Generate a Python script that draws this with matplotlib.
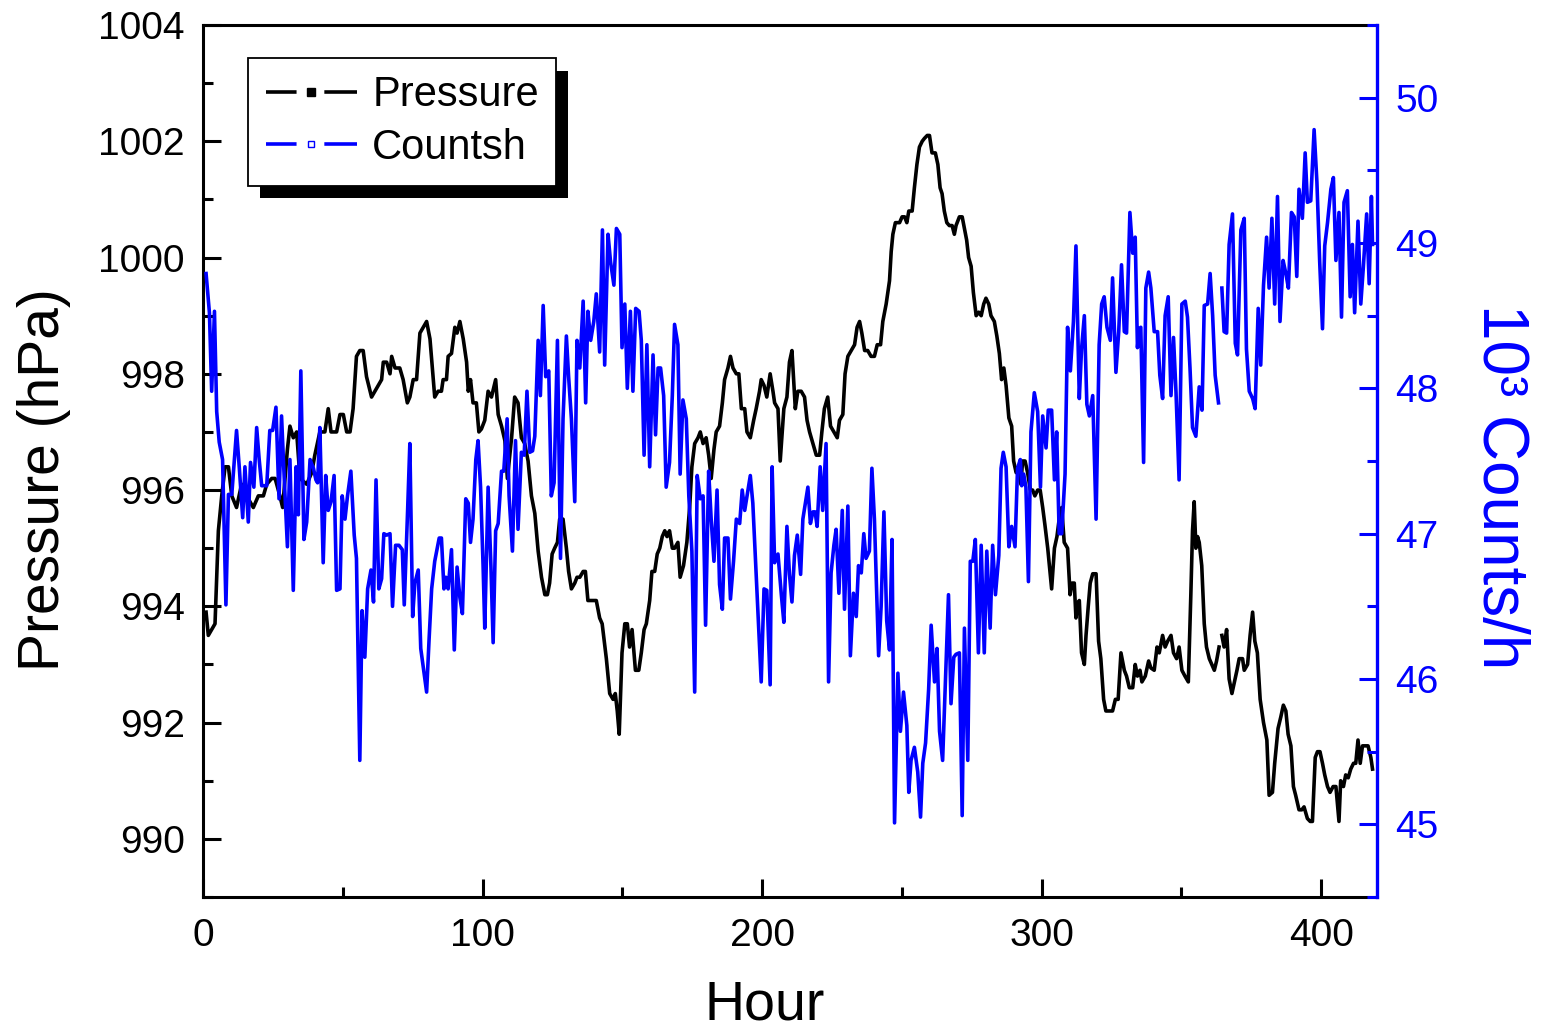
import numpy as np
import matplotlib
matplotlib.use('Agg')
import matplotlib.pyplot as plt
from matplotlib.lines import Line2D
from matplotlib.patches import Rectangle

plt.rcParams['font.family'] = ['Liberation Sans', 'DejaVu Sans']

# ---------------- data ----------------
hours_p = [1.1, 1.9, 4.3, 5.5, 6.7, 7.9, 9.1, 10.3, 12.0, 13.8, 15.6, 18.0, 19.8, 21.6, 22.8, 24.6, 25.8, 27.5, 28.5,
           30.2, 31.1, 32.3, 33.5, 34.7, 37.1, 38.9, 40.0, 41.8, 43.6, 44.8, 45.8, 47.8, 49.0, 50.2, 51.4, 52.6, 53.7,
           54.9, 56.1, 57.3, 58.5, 60.3, 61.5, 63.9, 64.5, 65.7, 66.9, 67.5, 68.7, 70.4, 71.6, 73.1, 74.0, 75.2, 76.4,
           77.6, 78.8, 80.0, 81.2, 82.3, 82.9, 84.1, 85.3, 85.9, 87.1, 87.7, 88.9, 90.1, 90.9, 91.9, 93.1, 94.3, 94.9,
           95.7, 96.6, 97.8, 98.7, 99.6, 100.8, 102.0, 103.2, 104.7, 105.6, 106.8, 108.0, 108.9, 110.4, 111.5, 112.7,
           113.9, 115.1, 116.3, 117.5, 118.7, 119.9, 121.1, 122.3, 123.2, 124.0, 124.9, 125.8, 126.8, 127.6, 128.8,
           130.0, 130.8, 131.8, 133.0, 133.8, 134.8, 136.0, 136.8, 137.7, 138.9, 140.7, 141.9, 142.8, 144.3, 145.5,
           146.7, 147.5, 148.2, 148.9, 149.9, 150.9, 151.8, 152.6, 153.5, 154.7, 155.9, 156.8, 157.8, 158.6, 159.8,
           160.6, 161.6, 162.5, 163.4, 164.3, 165.2, 166.0, 166.9, 167.9, 168.7, 169.9, 170.7, 171.9, 173.1, 174.1,
           174.9, 175.9, 177.1, 177.9, 178.9, 180.0, 180.9, 181.8, 182.8, 183.6, 184.8, 185.8, 186.6, 187.8, 188.7,
           189.6, 190.8, 191.7, 192.6, 193.8, 194.6, 195.8, 197.0, 197.9, 199.1, 199.7, 200.7, 201.7, 202.9, 203.9,
           204.5, 205.7, 206.5, 207.8, 208.9, 209.8, 210.7, 211.4, 211.9, 212.8, 214.0, 215.2, 216.1, 217.0, 218.2,
           219.4, 220.6, 221.4, 222.3, 223.5, 224.5, 225.7, 226.9, 227.7, 228.9, 229.7, 230.7, 231.9, 233.1, 234.0,
           234.9, 235.7, 236.7, 237.8, 239.0, 240.2, 241.2, 242.4, 243.2, 244.4, 245.6, 246.2, 246.8, 247.7, 249.2,
           250.1, 251.0, 251.8, 252.5, 253.7, 254.5, 255.4, 256.3, 257.3, 258.1, 259.1, 259.9, 260.8, 262.0, 262.9,
           263.7, 264.4, 265.2, 266.1, 267.0, 268.0, 268.8, 269.4, 270.6, 271.6, 272.4, 273.2, 273.9, 274.8, 275.6,
           276.6, 277.5, 278.4, 279.3, 280.1, 281.1, 281.9, 283.1, 284.0, 284.9, 285.7, 286.5, 287.3, 288.3, 289.3,
           290.0, 290.9, 291.7, 292.6, 293.2, 294.1, 295.0, 296.0, 296.8, 297.6, 298.6, 299.5, 300.4, 301.2, 302.2,
           302.8, 303.6, 304.6, 305.5, 306.3, 307.2, 308.1, 309.3, 310.2, 310.9, 311.7, 312.3, 312.9, 313.5, 314.3,
           315.3, 315.9, 316.7, 317.4, 318.3, 319.5, 320.4, 321.2, 322.2, 323.0, 324.2, 325.4, 326.4, 327.4, 328.4,
           329.6, 330.4, 331.4, 332.6, 333.5, 334.3, 335.2, 335.9, 337.1, 338.3, 339.1, 340.3, 341.3, 342.1, 343.3,
           344.2, 345.1, 346.3, 347.2, 348.3, 349.2, 350.2, 351.3, 352.5, 353.4, 354.0, 354.6, 355.2, 355.8, 356.4,
           357.3, 358.2, 359.0, 360.0, 360.9, 361.8, 362.6, 363.5, 364.0, 364.5, 365.3, 366.2, 367.1, 368.1, 369.9,
           370.7, 371.9, 372.5, 373.7, 374.6, 375.5, 376.3, 377.2, 378.2, 379.4, 380.6, 381.4, 382.6, 383.4, 384.6,
           385.6, 386.5, 387.4, 388.2, 389.2, 390.1, 390.9, 392.1, 393.1, 393.9, 395.1, 396.1, 396.9, 397.9, 398.7,
           399.6, 400.5, 401.3, 402.3, 403.2, 404.3, 405.3, 406.4, 407.0, 408.0, 408.8, 409.7, 410.6, 411.6, 412.4,
           413.2, 414.0, 414.8, 416.0, 416.8, 417.8, 418.4]
pressure = [993.9, 993.5, 993.7, 995.3, 995.9, 996.4, 996.4, 995.9, 995.7, 996.1, 995.9, 995.7, 995.9, 995.9, 996.1,
            996.2, 996.2, 995.9, 995.7, 996.7, 997.1, 996.9, 997.0, 996.2, 996.1, 996.3, 996.6, 997.0, 997.0, 997.4,
            997.0, 997.0, 997.3, 997.3, 997.0, 997.0, 997.4, 998.3, 998.4, 998.4, 997.95, 997.6, 997.7, 997.9, 998.2,
            998.2, 998.0, 998.3, 998.1, 998.1, 997.9, 997.5, 997.6, 997.9, 997.9, 998.7, 998.8, 998.9, 998.6, 997.95,
            997.6, 997.7, 997.7, 997.9, 997.9, 998.3, 998.35, 998.8, 998.7, 998.9, 998.6, 998.2, 997.7, 997.9, 997.5,
            997.5, 997.0, 997.05, 997.2, 997.7, 997.6, 997.9, 997.3, 997.1, 996.85, 996.2, 996.9, 997.6, 997.5, 996.9,
            996.8, 996.5, 995.9, 995.6, 994.95, 994.5, 994.2, 994.2, 994.4, 994.9, 995.0, 995.1, 995.5, 995.5, 995.0,
            994.6, 994.3, 994.4, 994.5, 994.5, 994.6, 994.6, 994.1, 994.1, 994.1, 993.8, 993.7, 993.1, 992.5, 992.4,
            992.5, 992.2, 991.8, 993.2, 993.7, 993.7, 993.3, 993.6, 992.9, 992.9, 993.2, 993.6, 993.7, 994.1, 994.6,
            994.6, 994.9, 995.0, 995.2, 995.3, 995.2, 995.3, 995.0, 995.0, 995.1, 994.5, 994.7, 995.1, 995.7, 996.4,
            996.8, 996.9, 997.0, 996.8, 996.9, 996.6, 996.2, 996.7, 997.0, 997.1, 997.5, 997.9, 998.1, 998.3, 998.1,
            998.0, 998.0, 997.4, 997.4, 997.0, 996.9, 997.2, 997.4, 997.7, 997.9, 997.8, 997.6, 998.0, 997.7, 997.5,
            997.4, 996.5, 997.4, 997.6, 998.2, 998.4, 997.8, 997.4, 997.7, 997.7, 997.6, 997.2, 997.0, 996.8, 996.6,
            996.6, 997.0, 997.4, 997.6, 997.1, 997.0, 996.9, 997.2, 997.3, 998.0, 998.3, 998.4, 998.5, 998.8, 998.9,
            998.7, 998.4, 998.4, 998.3, 998.3, 998.5, 998.5, 998.9, 999.2, 999.6, 1000.1, 1000.4, 1000.6, 1000.6,
            1000.7, 1000.7, 1000.6, 1000.8, 1000.8, 1001.2, 1001.6, 1001.9, 1002.0, 1002.05, 1002.1, 1002.1, 1001.8,
            1001.8, 1001.6, 1001.2, 1001.1, 1000.8, 1000.6, 1000.55, 1000.55, 1000.4, 1000.55, 1000.7, 1000.7, 1000.5,
            1000.3, 1000.0, 999.85, 999.4, 999.0, 999.06, 999.0, 999.2, 999.3, 999.2, 999.0, 998.9, 998.65, 998.35,
            997.9, 998.1, 997.8, 997.24, 997.1, 996.5, 996.3, 996.4, 996.1, 996.5, 996.5, 996.3, 996.0, 996.0, 995.9,
            996.0, 996.0, 995.7, 995.4, 995.0, 994.7, 994.3, 995.0, 995.2, 995.5, 995.7, 995.1, 995.0, 994.2, 994.4,
            994.4, 993.8, 994.05, 994.1, 993.2, 993.0, 993.5, 994.0, 994.4, 994.56, 994.56, 993.4, 993.1, 992.4, 992.2,
            992.2, 992.2, 992.4, 992.4, 993.2, 992.9, 992.8, 992.6, 992.6, 993.0, 992.8, 992.9, 992.7, 992.8, 993.06,
            992.94, 992.9, 993.3, 993.2, 993.5, 993.3, 993.4, 993.5, 993.2, 993.1, 993.3, 992.9, 992.8, 992.7, 994.2,
            995.3, 995.8, 995.0, 995.2, 995.1, 994.7, 993.7, 993.3, 993.1, 993.0, 992.9, 993.06, 993.3, np.nan, 993.5,
            993.3, 993.6, 992.75, 992.5, 992.9, 993.1, 993.1, 992.9, 993.0, 993.5, 993.9, 993.4, 993.2, 992.4, 992.0,
            991.7, 990.75, 990.8, 991.3, 991.9, 992.1, 992.3, 992.2, 991.8, 991.6, 990.9, 990.75, 990.5, 990.5, 990.55,
            990.35, 990.3, 990.3, 991.4, 991.5, 991.5, 991.3, 991.1, 990.9, 990.8, 990.9, 990.9, 990.3, 991.0, 990.9,
            991.1, 991.05, 991.2, 991.3, 991.3, 991.7, 991.3, 991.6, 991.6, 991.6, 991.4, 991.2]

hours_c = [1.1, 2.3, 3.1, 4.1, 4.9, 5.8, 7.0, 8.2, 9.1, 10.3, 12.0, 13.0, 14.2, 15.0, 16.2, 17.0, 18.2, 19.2, 20.1,
           21.0, 22.8, 23.9, 24.9, 26.1, 27.2, 28.1, 28.9, 30.2, 31.1, 32.3, 33.3, 34.1, 35.0, 36.1, 37.1, 38.3, 39.5,
           40.4, 41.0, 41.8, 43.0, 43.9, 44.8, 45.8, 46.9, 47.8, 49.0, 49.8, 50.8, 51.7, 52.9, 54.1, 54.9, 56.1, 56.9,
           57.9, 58.9, 60.1, 61.0, 61.9, 62.9, 63.9, 64.7, 65.7, 66.9, 67.8, 68.9, 70.1, 71.3, 72.0, 73.2, 74.0, 75.0,
           75.8, 77.0, 77.9, 79.0, 80.0, 80.9, 81.8, 82.9, 84.5, 85.3, 86.2, 86.9, 87.7, 88.9, 89.9, 90.9, 91.9, 92.8,
           94.0, 94.9, 95.7, 96.6, 97.6, 98.4, 99.3, 100.2, 100.8, 102.0, 103.0, 103.8, 104.7, 105.6, 106.8, 107.6,
           108.8, 109.5, 110.7, 111.8, 112.7, 113.9, 114.9, 115.9, 116.9, 117.9, 118.7, 119.9, 120.7, 121.7, 122.6,
           123.7, 124.6, 125.6, 126.8, 127.9, 128.8, 130.0, 130.8, 131.8, 133.0, 133.8, 134.8, 136.0, 136.9, 137.7,
           138.7, 139.8, 140.7, 141.9, 142.9, 143.7, 144.9, 145.8, 147.0, 147.9, 149.1, 149.9, 150.9, 151.8, 152.9,
           153.8, 154.8, 156.0, 156.8, 157.8, 158.8, 159.8, 161.0, 161.9, 162.8, 163.7, 164.8, 165.7, 166.9, 167.9,
           168.7, 169.9, 170.7, 171.7, 172.9, 173.8, 174.9, 175.9, 176.8, 177.9, 178.9, 179.8, 180.9, 181.8, 182.8,
           183.9, 184.8, 185.8, 186.6, 187.8, 188.7, 189.8, 190.8, 192.0, 192.9, 193.8, 194.7, 195.8, 196.7, 197.9,
           198.9, 199.7, 200.7, 201.7, 202.9, 203.6, 204.5, 205.7, 206.9, 207.8, 208.9, 209.8, 210.7, 211.6, 212.6,
           213.8, 214.6, 215.6, 216.4, 217.3, 218.2, 219.0, 219.7, 220.8, 221.7, 222.9, 223.8, 224.7, 225.7, 226.5,
           227.5, 228.7, 229.5, 230.7, 231.6, 232.7, 233.7, 234.5, 235.5, 236.4, 237.2, 238.4, 239.3, 240.2, 241.7,
           242.6, 243.6, 244.6, 245.6, 246.5, 247.4, 248.6, 249.5, 250.6, 251.8, 252.5, 253.3, 254.5, 255.7, 256.7,
           257.5, 258.5, 259.6, 260.5, 261.7, 262.6, 263.5, 264.6, 265.6, 266.7, 267.6, 268.6, 269.4, 270.6, 271.6,
           272.4, 273.6, 274.5, 275.4, 276.3, 277.4, 278.4, 279.5, 280.4, 281.6, 282.5, 283.5, 284.7, 285.5, 286.3,
           287.3, 288.3, 289.3, 290.5, 291.4, 292.4, 292.9, 293.6, 294.4, 295.3, 296.2, 297.4, 298.6, 299.6, 300.4,
           301.6, 302.4, 303.6, 304.6, 305.4, 306.3, 307.2, 308.4, 309.3, 310.3, 311.4, 312.3, 313.5, 314.3, 315.3,
           316.2, 317.1, 318.3, 319.5, 320.6, 321.5, 322.4, 323.4, 324.6, 325.4, 326.6, 327.6, 328.6, 329.6, 330.4,
           331.6, 332.6, 333.5, 334.3, 334.9, 335.5, 336.5, 337.3, 338.3, 339.1, 340.3, 341.5, 342.3, 343.3, 344.2,
           345.3, 346.3, 347.2, 348.1, 349.2, 350.2, 351.4, 352.2, 353.1, 354.0, 355.2, 356.4, 357.4, 358.2, 359.4,
           360.3, 361.2, 362.1, 363.3, 364.0, 364.5, 365.3, 366.2, 367.1, 368.3, 369.3, 370.1, 371.3, 372.5, 373.3,
           374.3, 375.5, 376.4, 377.5, 378.4, 379.4, 380.5, 381.4, 382.4, 383.4, 384.4, 385.3, 386.4, 387.4, 388.3,
           389.4, 390.4, 391.3, 392.1, 393.3, 394.3, 395.1, 396.3, 397.5, 398.5, 399.5, 400.5, 401.3, 402.3, 403.5,
           404.4, 405.3, 406.4, 407.3, 408.2, 409.4, 410.4, 411.2, 412.0, 413.2, 414.2, 415.1, 416.3, 417.2, 418.0,
           418.4]
counts = [48.79, 48.52, 47.98, 48.53, 47.84, 47.63, 47.51, 46.51, 47.27, 47.27, 47.71, 47.45, 47.11, 47.46, 47.08,
          47.49, 47.32, 47.73, 47.51, 47.33, 47.33, 47.71, 47.71, 47.87, 47.24, 47.81, 47.45, 46.91, 47.51, 46.61,
          47.46, 47.13, 48.12, 46.96, 47.08, 47.51, 47.45, 47.37, 47.35, 47.73, 46.8, 47.4, 47.16, 47.22, 47.4, 46.61,
          46.62, 47.26, 47.1, 47.26, 47.43, 46.99, 46.83, 45.44, 46.47, 46.15, 46.62, 46.75, 46.53, 47.37, 46.62,
          46.69, 47.0, 46.99, 47.0, 46.5, 46.92, 46.92, 46.89, 46.51, 47.16, 47.62, 46.43, 46.66, 46.75, 46.21, 46.05,
          45.91, 46.28, 46.62, 46.81, 46.97, 46.97, 46.62, 46.7, 46.62, 46.89, 46.2, 46.77, 46.56, 46.45, 47.24,
          47.21, 46.94, 47.1, 47.51, 47.64, 47.32, 46.78, 46.35, 47.32, 46.78, 46.25, 47.02, 47.07, 47.43, 47.43,
          47.79, 47.26, 46.88, 47.64, 47.03, 47.56, 47.54, 47.98, 47.56, 47.57, 47.67, 48.33, 47.95, 48.57, 48.08,
          48.12, 47.26, 47.35, 48.33, 46.83, 47.79, 48.36, 48.08, 47.79, 47.22, 48.33, 48.14, 48.6, 47.9, 48.53,
          48.33, 48.46, 48.65, 48.25, 49.09, 48.16, 49.06, 48.87, 48.71, 49.1, 49.06, 48.28, 48.58, 48.0, 48.53,
          47.98, 48.55, 48.53, 48.33, 47.54, 48.3, 47.46, 48.23, 47.68, 48.14, 48.14, 47.95, 47.32, 47.49, 47.95,
          48.44, 48.3, 47.41, 47.92, 47.79, 47.26, 46.88, 45.91, 47.4, 47.24, 47.26, 46.37, 47.43, 47.1, 46.81,
          47.3, 46.65, 46.48, 46.97, 46.97, 46.55, 46.81, 47.1, 47.07, 47.3, 47.16, 47.27, 47.4, 47.21, 46.72,
          46.31, 45.98, 46.62, 46.61, 45.96, 47.46, 46.8, 46.86, 46.58, 46.39, 47.05, 46.72, 46.53, 46.85, 46.99,
          46.72, 47.1, 47.22, 47.32, 47.07, 47.15, 47.15, 47.05, 47.46, 47.16, 47.62, 45.98, 46.73, 46.92, 47.03,
          46.59, 47.16, 46.48, 47.19, 46.16, 46.59, 46.43, 46.78, 46.73, 47.0, 46.83, 46.88, 47.45, 47.1, 46.16,
          46.5, 47.15, 46.4, 46.2, 46.96, 45.01, 46.04, 45.64, 45.91, 45.68, 45.22, 45.44, 45.53, 45.36, 45.05,
          45.42, 45.56, 45.93, 46.37, 45.98, 46.21, 45.64, 45.44, 45.99, 46.58, 45.83, 46.15, 46.17, 46.18, 45.06,
          46.35, 45.44, 46.81, 46.81, 46.96, 46.18, 46.92, 46.18, 46.88, 46.35, 46.92, 46.58, 46.85, 47.45, 47.56,
          47.46, 46.91, 47.05, 46.91, 47.45, 47.51, 47.33, 47.41, 47.32, 46.67, 47.7, 47.97, 47.84, 47.32, 47.81,
          47.59, 47.85, 47.85, 47.37, 47.7, 47.0, 47.0, 47.41, 48.42, 48.12, 48.46, 48.98, 47.93, 48.27, 48.5,
          47.89, 47.81, 47.95, 47.1, 48.3, 48.58, 48.63, 48.42, 48.33, 48.76, 48.11, 48.39, 48.85, 48.39, 48.38,
          49.21, 48.93, 49.04, 48.28, 48.41, 48.42, 47.49, 48.69, 48.8, 48.69, 48.39, 48.39, 48.09, 47.93, 48.5,
          48.63, 47.95, 48.35, 47.97, 47.37, 48.58, 48.6, 48.49, 48.14, 47.73, 47.67, 48.01, 47.85, 48.57, 48.58,
          48.79, 48.5, 48.09, 47.9, np.nan, 48.69, 48.39, 48.38, 48.99, 49.2, 48.31, 48.23, 49.09, 49.17, 48.27,
          47.98, 47.93, 47.86, 48.55, 48.16, 48.71, 49.04, 48.69, 49.17, 48.58, 49.32, 48.46, 48.88, 48.79, 48.69,
          49.21, 49.18, 48.77, 49.37, 49.17, 49.62, 49.28, 49.29, 49.78, 49.42, 48.87, 48.41, 48.98, 49.14, 49.37,
          49.45, 48.88, 49.21, 48.49, 49.28, 49.36, 48.63, 48.99, 48.52, 49.15, 48.58, 48.83, 49.2, 48.72, 49.32,
          48.99]

x_ticks = [0, 100, 200, 300, 400]
x_minor = [50, 150, 250, 350]
p_ticks = [990, 992, 994, 996, 998, 1000, 1002, 1004]
p_minor = [989, 991, 993, 995, 997, 999, 1001, 1003]
c_ticks = [45, 46, 47, 48, 49, 50]
c_minor = [44.5, 45.5, 46.5, 47.5, 48.5, 49.5, 50.5]
series_labels = ['Pressure', 'Countsh']
x_label = 'Hour'
p_label = 'Pressure (hPa)'
c_label = '10\u00b3 Counts/h'

BLUE = '#0000ff'
W, H = 1542, 1032
L, R, T, B = 203, 1377, 25, 897
LW = 2.6

fig = plt.figure(figsize=(W / 100, H / 100), dpi=100)
ax = fig.add_axes([L / W, 1 - B / H, (R - L) / W, (B - T) / H])
ax2 = ax.twinx()

ax.plot(hours_p, pressure, color='black', lw=LW, zorder=2)
ax2.plot(hours_c, counts, color=BLUE, lw=LW, zorder=2)

ax.set_xlim(0, 420)
ax.set_ylim(989, 1004)
ax2.set_ylim(44.5, 50.5)

ax.set_xticks(x_ticks)
ax.set_xticks(x_minor, minor=True)
ax.set_yticks(p_ticks)
ax.set_yticks(p_minor, minor=True)
ax2.set_yticks(c_ticks)
ax2.set_yticks(c_minor, minor=True)

for sp in ['left', 'bottom', 'top']:
    ax.spines[sp].set_linewidth(2.2)
    ax.spines[sp].set_color('black')
ax.spines['right'].set_visible(False)
for sp in ['left', 'bottom', 'top']:
    ax2.spines[sp].set_visible(False)
ax2.spines['right'].set_color(BLUE)
ax2.spines['right'].set_linewidth(2.4)

ax.tick_params(axis='both', which='both', direction='in', width=2.2, top=False, right=False,
               labelsize=28, colors='black')
ax.tick_params(axis='both', which='major', length=13)
ax.tick_params(axis='both', which='minor', length=7)
ax.tick_params(axis='y', which='major', pad=13)
ax.tick_params(axis='x', which='major', pad=15)

ax2.tick_params(axis='y', which='both', direction='in', width=2.2, colors=BLUE, labelsize=28, pad=13)
ax2.tick_params(axis='y', which='major', length=13)
ax2.tick_params(axis='y', which='minor', length=7)

# axis titles
fig.text(765 / W, 1 - 1020 / H, x_label, fontsize=40, ha='center', va='baseline')
fig.text(71 / W, 1 - 480 / H, p_label, fontsize=41, rotation=90, ha='right', va='center',
         rotation_mode='default')
fig.text(1500 / W, 1 - 487 / H, c_label, fontsize=46, rotation=270, ha='center', va='center', color=BLUE)

# legend
dash = (22 / LW, 20 / LW, 40 / LW, 5 / LW)
h1 = Line2D([], [], color='black', lw=LW, dashes=dash,
            marker='s', markersize=5.5, markerfacecolor='black', markeredgecolor='black')
h2 = Line2D([], [], color=BLUE, lw=LW, dashes=dash,
            marker='s', markersize=4.5, markerfacecolor='white', markeredgecolor=BLUE, markeredgewidth=1.0)
leg = ax2.legend(handles=[h1, h2], labels=series_labels, loc='upper left',
                 bbox_to_anchor=((248 - L) / (R - L), (B - 58) / (B - T)), borderaxespad=0,
                 fontsize=30, frameon=True, fancybox=False, edgecolor='black', framealpha=1,
                 handlelength=2.2, handletextpad=0.36, borderpad=0.42, labelspacing=0.3,
                 numpoints=1)
leg.get_frame().set_linewidth(1.3)
leg.set_zorder(5)

fig.canvas.draw()
bb = leg.get_frame().get_window_extent(fig.canvas.get_renderer())
bb_ax = bb.transformed(ax2.transAxes.inverted())
dx = 12 / (R - L)
dy = 13 / (B - T)
shadow = Rectangle((bb_ax.x0 + dx, bb_ax.y0 - dy), bb_ax.width, bb_ax.height,
                   transform=ax2.transAxes, facecolor='black', edgecolor='none',
                   zorder=4.9, clip_on=False)
ax2.add_patch(shadow)

fig.savefig('out.png', dpi=100)
